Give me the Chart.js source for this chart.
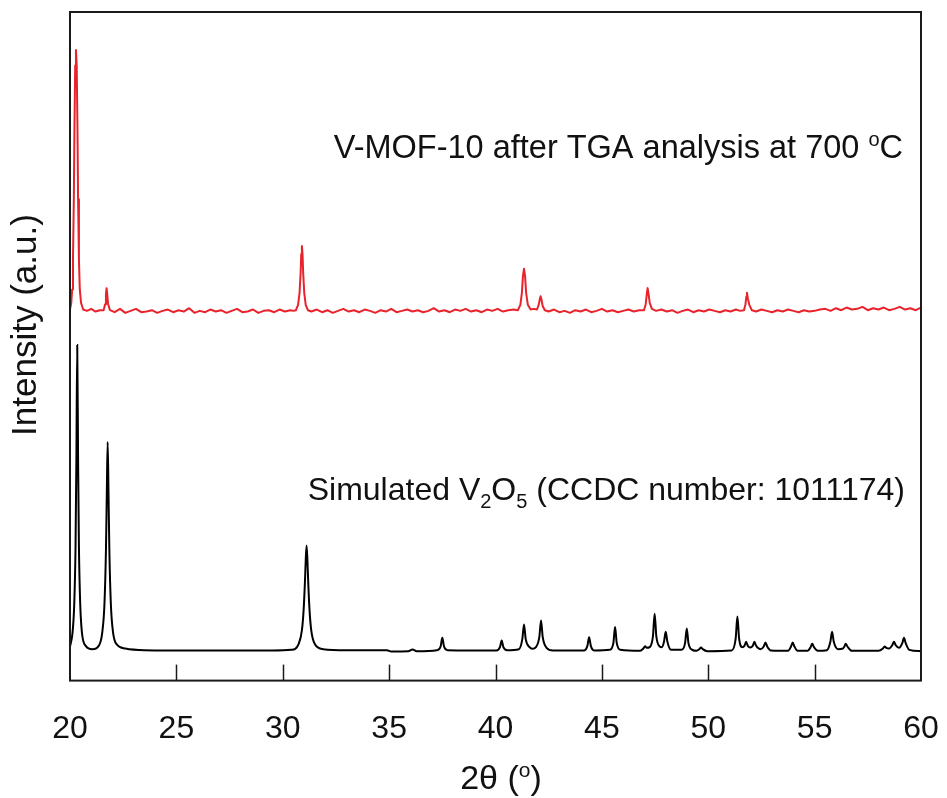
<!DOCTYPE html>
<html>
<head>
<meta charset="utf-8">
<script src="https://cdn.jsdelivr.net/npm/chart.js@4.4.1/dist/chart.umd.min.js"></script>
<style>
  body { margin: 0; background: #fff; }
  canvas { display: block; }
</style>
</head>
<body>
<canvas id="xrdChart" width="947" height="798"></canvas>
<script>
// tick labels on the 2theta axis
const xTicks = [20, 25, 30, 35, 40, 45, 50, 55, 60];

// simulated V2O5 pattern (black), intensity in a.u.
const simTheta = [
  20.00, 20.12, 20.20, 20.26, 20.30, 20.34, 20.38, 20.42, 20.48, 20.56,
  20.74, 21.05, 21.37, 21.52, 21.62, 21.69, 21.73, 21.77, 21.81, 21.85,
  21.92, 22.02, 22.20, 22.60, 23.50, 26.00, 29.50, 30.40, 30.75, 30.90,
  30.98, 31.04, 31.08, 31.12, 31.16, 31.20, 31.26, 31.34, 31.50, 31.90,
  33.00, 34.90, 35.10, 35.90, 36.10, 36.30, 37.25, 37.42,
  37.50, 37.58, 37.75, 40.04, 40.21, 40.29, 40.37, 40.55, 41.10, 41.26,
  41.34, 41.42, 41.60, 41.74, 41.90, 42.06, 42.14, 42.22, 42.40, 42.70,
  44.15, 44.32, 44.40, 44.48, 44.65, 45.37, 45.54, 45.62, 45.70, 45.87,
  46.80, 46.95, 47.03, 47.11, 47.25, 47.40, 47.48, 47.56, 47.72, 47.82,
  47.92, 48.00, 48.08, 48.25, 48.74, 48.91, 48.99, 49.07, 49.25, 49.45,
  49.58, 49.66, 49.74, 49.95, 51.10, 51.29, 51.37, 51.45, 51.60, 51.70,
  51.78, 51.86, 51.97, 52.09, 52.17, 52.25, 52.45, 52.61, 52.69, 52.77,
  52.95, 53.75, 53.89, 53.97, 54.05, 54.20, 54.67, 54.81, 54.89, 54.97,
  55.15, 55.58, 55.74, 55.82, 55.90, 56.10, 56.30, 56.40, 56.46, 56.54,
  56.75, 58.00, 58.21, 58.29, 58.37, 58.50, 58.65, 58.73, 58.81, 58.97,
  59.12, 59.20, 59.28, 59.45, 60.00
];
const simCounts = [
  5.1, 7.2, 11.5, 20.0, 33.0, 50.2, 33.0, 20.0, 11.5, 7.2,
  5.2, 4.7, 5.3, 7.3, 11.5, 19.5, 28.0, 35.7, 28.0, 19.5,
  11.5, 7.3, 5.4, 4.8, 4.55, 4.5, 4.5, 4.6, 5.5, 7.5,
  10.5, 14.5, 18.0, 20.2, 18.0, 14.5, 10.5, 7.5, 5.5, 4.7,
  4.55, 4.55, 4.35, 4.38, 4.65, 4.38, 4.55, 5.1,
  6.4, 5.1, 4.55, 4.5, 5.0, 6.0, 5.0, 4.55, 4.7, 6.2,
  8.4, 6.2, 5.0, 4.75, 5.0, 6.5, 9.0, 6.5, 4.9, 4.5,
  4.5, 5.2, 6.5, 5.2, 4.5, 4.6, 5.6, 8.0, 5.6, 4.6,
  4.45, 4.8, 5.15, 4.9, 5.0, 6.6, 10.0, 6.6, 5.1, 5.0,
  5.8, 7.3, 5.8, 4.6, 4.6, 5.6, 7.8, 5.6, 4.6, 4.45,
  4.7, 4.95, 4.7, 4.4, 4.5, 6.3, 9.6, 6.3, 5.0, 5.2,
  5.8, 5.2, 4.95, 5.2, 5.8, 5.2, 4.7, 5.1, 5.7, 5.1,
  4.5, 4.45, 5.1, 5.7, 5.1, 4.45, 4.45, 5.0, 5.5, 5.0,
  4.45, 4.55, 5.8, 7.3, 5.8, 4.7, 4.75, 5.1, 5.5, 5.1,
  4.45, 4.45, 4.8, 5.1, 4.9, 4.8, 5.3, 5.8, 5.3, 4.9,
  5.6, 6.4, 5.6, 4.6, 4.4
];

// V-MOF-10 after TGA (red), intensity in a.u.
const tgaTheta = [
  20.00, 20.06, 20.10, 20.14, 20.18, 20.21, 20.245, 20.28, 20.315, 20.35,
  20.38, 20.42, 20.46, 20.52, 20.62, 20.80, 21.00, 21.20, 21.40,
  21.58, 21.65, 21.69, 21.72, 21.75, 21.79, 21.88,
  22.10, 22.35, 22.60, 22.85, 23.10, 23.35, 23.60, 23.85, 24.10, 24.35,
  24.60, 24.85, 25.10, 25.35, 25.60, 25.85, 26.10, 26.35, 26.60, 26.85,
  27.10, 27.35, 27.60, 27.85, 28.10, 28.35, 28.60, 28.85, 29.10, 29.35,
  29.60, 29.85, 30.10, 30.35, 30.50,
  30.62, 30.72, 30.79, 30.84, 30.87, 30.90, 30.93, 30.96, 31.01, 31.08, 31.18,
  31.35, 31.60, 31.85, 32.10, 32.35, 32.60, 32.85, 33.10, 33.35, 33.60,
  33.85, 34.10, 34.35, 34.60, 34.85, 35.10, 35.35, 35.60, 35.85, 36.10,
  36.35, 36.60, 36.85, 37.10, 37.35, 37.60, 37.85, 38.10, 38.35, 38.60,
  38.85, 39.10, 39.35, 39.60, 39.85, 40.10, 40.35, 40.60, 40.85,
  41.05, 41.17, 41.24, 41.29, 41.34, 41.39, 41.44, 41.52, 41.65, 41.80,
  41.95, 42.03, 42.08, 42.12, 42.16, 42.22, 42.32,
  42.50, 42.75, 43.00, 43.25, 43.50, 43.75, 44.00, 44.25, 44.50, 44.75,
  45.00, 45.25, 45.50, 45.75, 46.00, 46.25, 46.50, 46.75,
  46.98, 47.06, 47.11, 47.15, 47.19, 47.25, 47.35,
  47.55, 47.80, 48.05, 48.30, 48.55, 48.80, 49.05, 49.30, 49.55, 49.80,
  50.05, 50.30, 50.55, 50.80, 51.05, 51.30, 51.50,
  51.68, 51.75, 51.79, 51.82, 51.86, 51.93, 52.05,
  52.25, 52.50, 52.75, 53.00, 53.25, 53.50, 53.75, 54.00, 54.25, 54.50,
  54.75, 55.00, 55.25, 55.50, 55.75, 56.00, 56.25, 56.50, 56.75, 57.00,
  57.25, 57.50, 57.75, 58.00, 58.25, 58.50, 58.75, 59.00, 59.25, 59.50,
  59.75, 60.00
];
const tgaCounts = [
  55.5, 56.5, 58.5, 63.0, 72.0, 83.0, 92.0, 94.3, 92.0, 83.0,
  72.0, 63.0, 58.5, 56.5, 55.5, 55.3, 55.6, 55.2, 55.4,
  55.4, 56.3, 57.8, 58.7, 57.8, 56.3, 55.4,
  55.1, 55.6, 55.0, 55.3, 55.6, 55.1, 55.2, 55.4, 55.0, 55.3,
  55.5, 55.1, 55.4, 55.2, 55.7, 55.0, 55.3, 55.1, 55.5, 55.2,
  55.4, 55.0, 55.3, 55.6, 55.1, 55.2, 55.5, 55.0, 55.3, 55.4,
  55.1, 55.5, 55.2, 55.4, 55.3,
  55.4, 56.2, 58.0, 61.0, 63.8, 65.0, 63.8, 61.0, 58.0, 56.2, 55.4,
  55.2, 55.5, 55.1, 55.4, 55.0, 55.3, 55.6, 55.2, 55.4, 55.1,
  55.5, 55.3, 55.0, 55.4, 55.2, 55.6, 55.1, 55.3, 55.5, 55.2,
  55.4, 55.1, 55.3, 55.7, 55.2, 55.4, 55.1, 55.5, 55.3, 55.6,
  55.2, 55.4, 55.1, 55.5, 55.3, 55.6, 55.2, 55.4, 55.5,
  55.4, 56.2, 58.0, 60.5, 61.6, 60.5, 58.0, 56.2, 55.5, 55.6,
  55.5, 56.2, 57.0, 57.5, 57.0, 56.0, 55.4,
  55.2, 55.5, 55.1, 55.3, 55.0, 55.4, 55.2, 55.5, 55.1, 55.3,
  55.6, 55.2, 55.4, 55.1, 55.3, 55.5, 55.2, 55.4,
  55.4, 56.3, 57.8, 58.7, 57.9, 56.5, 55.6,
  55.3, 55.5, 55.2, 55.4, 55.0, 55.3, 55.5, 55.1, 55.4, 55.2,
  55.5, 55.3, 55.1, 55.4, 55.2, 55.5, 55.3,
  55.4, 56.3, 57.4, 58.0, 57.2, 56.2, 55.4,
  55.2, 55.5, 55.3, 55.1, 55.4, 55.2, 55.5, 55.3, 55.1, 55.4,
  55.2, 55.3, 55.5, 55.6, 55.3, 55.7, 55.4, 55.8, 55.5, 55.6,
  55.9, 55.4, 55.7, 55.5, 55.8, 55.4, 55.6, 55.9, 55.5, 55.7,
  55.4, 55.8
];

const FONT = '"Liberation Sans", Arial, Helvetica, sans-serif';

// draw a run of text pieces (for super/subscripts)
function drawRich(ctx, parts, x, y, align) {
  let total = 0;
  parts.forEach(p => { ctx.font = p.s + 'px ' + FONT; total += ctx.measureText(p.t).width; });
  let cx = align === 'right' ? x - total : align === 'center' ? x - total / 2 : x;
  ctx.textAlign = 'left';
  ctx.textBaseline = 'alphabetic';
  parts.forEach(p => {
    ctx.font = p.s + 'px ' + FONT;
    ctx.fillText(p.t, cx, y + (p.dy || 0));
    cx += ctx.measureText(p.t).width;
  });
}

const framePlugin = {
  id: 'frame',
  afterDraw(chart) {
    const { ctx, chartArea: a, scales: { x } } = chart;
    ctx.save();
    ctx.strokeStyle = '#1a1a1a';
    ctx.lineWidth = 2;
    ctx.strokeRect(a.left, a.top, a.right - a.left, a.bottom - a.top);

    // inward ticks on the bottom axis
    ctx.lineWidth = 1.5;
    xTicks.slice(1, -1).forEach(v => {
      const px = Math.round(x.getPixelForValue(v)) + 0.5;
      ctx.beginPath();
      ctx.moveTo(px, a.bottom);
      ctx.lineTo(px, a.bottom - 16);
      ctx.stroke();
    });

    ctx.fillStyle = '#111';
    // curve labels
    drawRich(ctx, [
      { t: 'V-MOF-10 after TGA analysis at 700 ', s: 32.5 },
      { t: 'o', s: 20, dy: -12 },
      { t: 'C', s: 32.5 }
    ], 903, 158, 'right');
    drawRich(ctx, [
      { t: 'Simulated V', s: 32 },
      { t: '2', s: 20, dy: 8 },
      { t: 'O', s: 32 },
      { t: '5', s: 20, dy: 8 },
      { t: ' (CCDC number: 1011174)', s: 32 }
    ], 905, 500, 'right');

    // axis titles
    drawRich(ctx, [
      { t: '2\u03B8 (', s: 34 },
      { t: 'o', s: 21, dy: -12 },
      { t: ')', s: 34 }
    ], 501, 789, 'center');

    ctx.translate(36, 325);
    ctx.rotate(-Math.PI / 2);
    drawRich(ctx, [{ t: 'Intensity (a.u.)', s: 35 }], 0, 0, 'center');
    ctx.restore();
  }
};

const toPoints = (xs, ys) => xs.map((v, i) => ({ x: v, y: ys[i] }));

new Chart(document.getElementById('xrdChart'), {
  type: 'line',
  data: {
    datasets: [
      {
        label: 'Simulated V2O5 (CCDC number: 1011174)',
        data: toPoints(simTheta, simCounts),
        borderColor: '#000000',
        borderWidth: 2,
        pointRadius: 0,
        cubicInterpolationMode: 'monotone'
      },
      {
        label: 'V-MOF-10 after TGA analysis at 700 oC',
        data: toPoints(tgaTheta, tgaCounts),
        borderColor: '#e8232b',
        borderWidth: 2,
        borderJoinStyle: 'round',
        pointRadius: 0,
        tension: 0
      }
    ]
  },
  options: {
    responsive: false,
    animation: false,
    layout: { padding: { left: 70, right: 26, top: 12, bottom: 50 } },
    plugins: { legend: { display: false }, tooltip: { enabled: false } },
    scales: {
      x: {
        type: 'linear',
        min: 20,
        max: 60,
        afterBuildTicks: axis => { axis.ticks = xTicks.map(v => ({ value: v })); },
        // tick marks are drawn inward by the plugin; tickLength only spaces the labels
        grid: { display: false, drawTicks: true, tickLength: 29 },
        border: { display: false },
        ticks: {
          padding: 0,
          maxRotation: 0,
          color: '#111',
          font: { family: FONT, size: 32 }
        }
      },
      y: { display: false, min: 0, max: 100 }
    }
  },
  plugins: [framePlugin]
});
</script>
</body>
</html>
